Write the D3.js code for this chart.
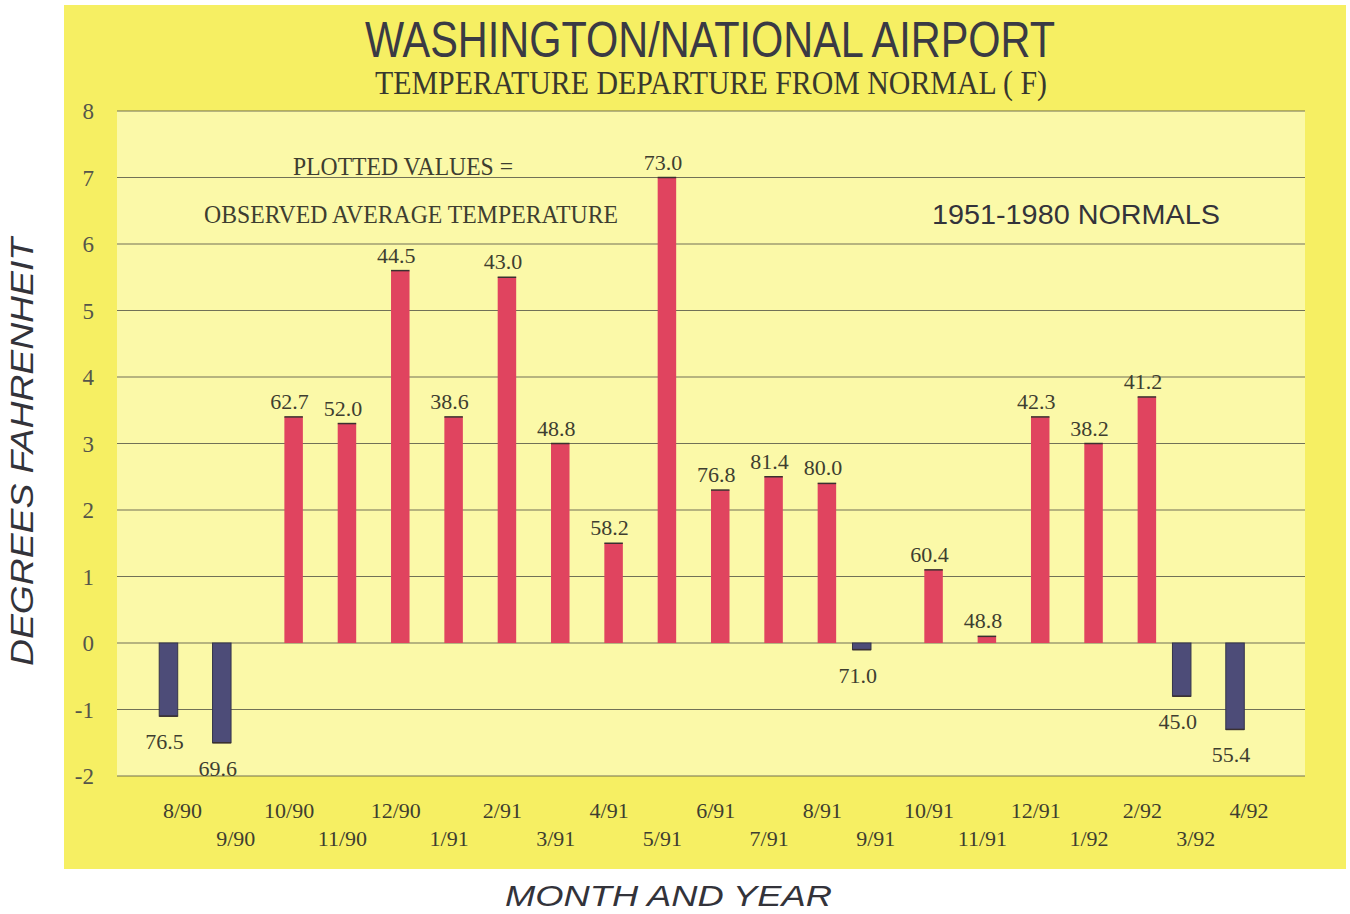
<!DOCTYPE html>
<html>
<head>
<meta charset="utf-8">
<script src="https://cdn.jsdelivr.net/npm/d3@7"></script>
<style>
  body { margin: 0; background: #fff; }
  svg { display: block; }
</style>
</head>
<body>
<div id="chart"></div>
<script>
// month labels, departure from normal (F) and observed mean temperature
const months = ['8/90', '9/90', '10/90', '11/90', '12/90', '1/91', '2/91', '3/91', '4/91', '5/91', '6/91',
  '7/91', '8/91', '9/91', '10/91', '11/91', '12/91', '1/92', '2/92', '3/92', '4/92'];
const departures = [-1.1, -1.5, 3.4, 3.3, 5.6, 3.4, 5.5, 3.0, 1.5, 7.0, 2.3,
  2.5, 2.4, -0.1, 1.1, 0.1, 3.4, 3.0, 3.7, -0.8, -1.3];
const observed = ['76.5', '69.6', '62.7', '52.0', '44.5', '38.6', '43.0', '48.8', '58.2', '73.0', '76.8',
  '81.4', '80.0', '71.0', '60.4', '48.8', '42.3', '38.2', '41.2', '45.0', '55.4'];
const yTicks = [-2, -1, 0, 1, 2, 3, 4, 5, 6, 7, 8];

const width = 1350;
const height = 914;
const plot = { left: 117, right: 1305, top: 111, bottom: 776 };
const barW = 18.5;

const svg = d3.select('#chart').append('svg')
  .attr('width', width)
  .attr('height', height);

// yellow card and lighter plot area
svg.append('rect')
  .attr('x', 64).attr('y', 5)
  .attr('width', 1282).attr('height', 864)
  .attr('fill', '#f6ef63');

svg.append('rect')
  .attr('x', plot.left).attr('y', plot.top)
  .attr('width', plot.right - plot.left).attr('height', plot.bottom - plot.top)
  .attr('fill', '#fbf9a8');

const y = d3.scaleLinear().domain([-2, 8]).range([plot.bottom, plot.top]);
const x = d3.scaleBand().domain(months).range([155.8, 1275.7]);
const sub = d3.scaleBand().domain(['neg', 'pos']).range([-barW - 4.75, barW - 4.75]);

// gridlines
svg.append('g')
  .selectAll('line')
  .data(yTicks)
  .join('line')
  .attr('x1', plot.left)
  .attr('x2', plot.right)
  .attr('y1', d => y(d))
  .attr('y2', d => y(d))
  .attr('stroke', '#5a5a4a')
  .attr('stroke-width', 1.2)
  .attr('opacity', 0.85);

// y tick labels
svg.append('g')
  .selectAll('text')
  .data(yTicks)
  .join('text')
  .attr('x', 94)
  .attr('y', d => y(d) + 8)
  .attr('text-anchor', 'end')
  .attr('font-family', '"Liberation Serif", "Times New Roman", serif')
  .attr('font-size', 23)
  .attr('fill', '#55554a')
  .text(d => d);

// x tick labels, staggered in two rows
svg.append('g')
  .selectAll('text')
  .data(months)
  .join('text')
  .attr('x', d => x(d) + x.bandwidth() / 2)
  .attr('y', (d, i) => (i % 2 === 0 ? 818 : 846))
  .attr('text-anchor', 'middle')
  .attr('font-family', '"Liberation Serif", "Times New Roman", serif')
  .attr('font-size', 22)
  .attr('fill', '#3e3e30')
  .text(d => d);

const data = months.map((m, i) => ({ month: m, value: departures[i], obs: observed[i] }));
const barX = d => x(d.month) + x.bandwidth() / 2 + sub(d.value < 0 ? 'neg' : 'pos');

// bars
svg.append('g')
  .selectAll('rect')
  .data(data)
  .join('rect')
  .attr('x', barX)
  .attr('width', barW)
  .attr('y', d => y(Math.max(d.value, 0)))
  .attr('height', d => Math.abs(y(d.value) - y(0)))
  .attr('fill', d => (d.value < 0 ? '#4d4c78' : '#e0445f'))
  .attr('stroke', d => (d.value < 0 ? '#34344a' : 'none'))
  .attr('stroke-width', 1);

// dark edge at the end of each bar
svg.append('g')
  .selectAll('line')
  .data(data)
  .join('line')
  .attr('x1', barX)
  .attr('x2', d => barX(d) + barW)
  .attr('y1', d => y(d.value))
  .attr('y2', d => y(d.value))
  .attr('stroke', '#3a3030')
  .attr('stroke-width', 1.5);

// observed temperature labels
svg.append('g')
  .selectAll('text')
  .data(data)
  .join('text')
  .attr('x', d => barX(d) + barW / 2 - 4)
  .attr('y', d => (d.value < 0 ? y(d.value) + 33 : y(d.value) - 8))
  .attr('text-anchor', 'middle')
  .attr('font-family', '"Liberation Serif", "Times New Roman", serif')
  .attr('font-size', 22)
  .attr('fill', '#3e3e30')
  .text(d => d.obs);

// titles and notes
svg.append('text')
  .attr('x', 365).attr('y', 57)
  .attr('textLength', 690)
  .attr('lengthAdjust', 'spacingAndGlyphs')
  .attr('font-family', '"Liberation Sans", Arial, sans-serif')
  .attr('font-size', 50)
  .attr('fill', '#3a3a44')
  .text('WASHINGTON/NATIONAL AIRPORT');

svg.append('text')
  .attr('x', 375).attr('y', 94)
  .attr('textLength', 672)
  .attr('lengthAdjust', 'spacingAndGlyphs')
  .attr('font-family', '"Liberation Serif", "Times New Roman", serif')
  .attr('font-size', 33)
  .attr('fill', '#38382e')
  .text('TEMPERATURE DEPARTURE FROM NORMAL (  F)');

svg.append('text')
  .attr('x', 293).attr('y', 175)
  .attr('textLength', 220)
  .attr('lengthAdjust', 'spacingAndGlyphs')
  .attr('font-family', '"Liberation Serif", "Times New Roman", serif')
  .attr('font-size', 25)
  .attr('fill', '#3e3e30')
  .text('PLOTTED VALUES =');

svg.append('text')
  .attr('x', 204).attr('y', 223)
  .attr('textLength', 414)
  .attr('lengthAdjust', 'spacingAndGlyphs')
  .attr('font-family', '"Liberation Serif", "Times New Roman", serif')
  .attr('font-size', 25)
  .attr('fill', '#3e3e30')
  .text('OBSERVED AVERAGE TEMPERATURE');

svg.append('text')
  .attr('x', 932).attr('y', 224)
  .attr('textLength', 288)
  .attr('lengthAdjust', 'spacingAndGlyphs')
  .attr('font-family', '"Liberation Sans", Arial, sans-serif')
  .attr('font-size', 27)
  .attr('fill', '#33333a')
  .text('1951-1980 NORMALS');

svg.append('text')
  .attr('transform', 'translate(33,452) rotate(-90)')
  .attr('text-anchor', 'middle')
  .attr('textLength', 428)
  .attr('lengthAdjust', 'spacingAndGlyphs')
  .attr('font-family', '"Liberation Sans", Arial, sans-serif')
  .attr('font-style', 'italic')
  .attr('font-size', 32)
  .attr('fill', '#33333a')
  .text('DEGREES FAHRENHEIT');

svg.append('text')
  .attr('x', 505).attr('y', 906)
  .attr('textLength', 327)
  .attr('lengthAdjust', 'spacingAndGlyphs')
  .attr('font-family', '"Liberation Sans", Arial, sans-serif')
  .attr('font-style', 'italic')
  .attr('font-size', 30)
  .attr('fill', '#33333a')
  .text('MONTH AND YEAR');
</script>
</body>
</html>
